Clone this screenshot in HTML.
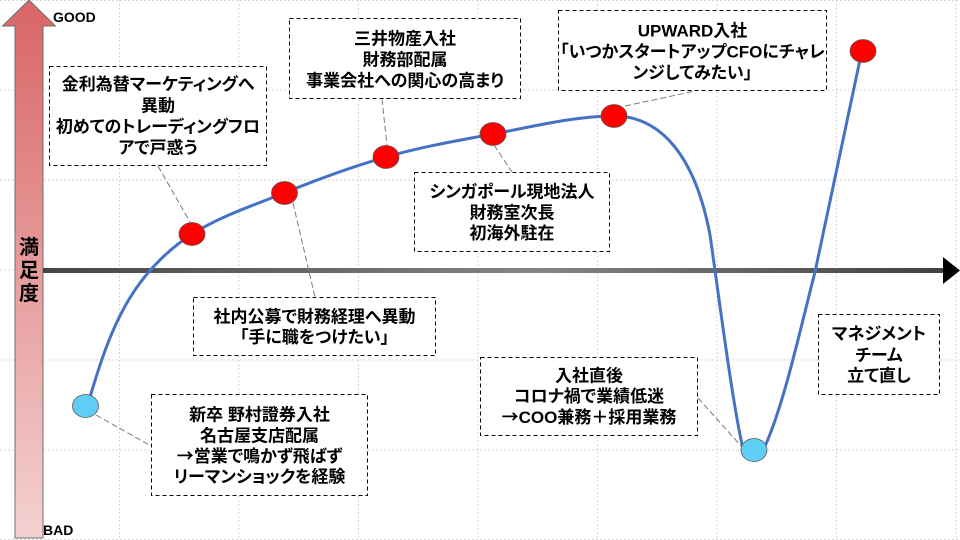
<!DOCTYPE html>
<html><head><meta charset="utf-8"><style>
html,body{margin:0;padding:0;background:#fff;}
svg{display:block;}
text{font-family:"Liberation Sans","Noto Sans CJK JP",sans-serif;font-weight:bold;fill:#000;font-feature-settings:"palt";}
.bx{font-size:17px;text-anchor:middle;}
.cj{font-family:"Noto Sans CJK JP",sans-serif;}
</style></head><body>
<svg width="960" height="540" viewBox="0 0 960 540" xmlns="http://www.w3.org/2000/svg">
<defs>
<linearGradient id="rg" x1="0" y1="0" x2="0" y2="1">
<stop offset="0" stop-color="#d96565"/><stop offset="1" stop-color="#f4d1d1"/>
</linearGradient>
<linearGradient id="ag" x1="0" y1="0" x2="1" y2="0">
<stop offset="0" stop-color="#454545"/><stop offset="0.55" stop-color="#858585"/><stop offset="1" stop-color="#404040"/>
</linearGradient>
</defs>
<!-- grid -->
<g stroke="#d6d6d6" stroke-width="1" stroke-dasharray="2,2" fill="none">
<line x1="0" y1="0.5" x2="960" y2="0.5"/>
<line x1="0" y1="90" x2="960" y2="90"/>
<line x1="0" y1="180" x2="960" y2="180"/>
<line x1="0" y1="270" x2="960" y2="270"/>
<line x1="0" y1="360" x2="960" y2="360"/>
<line x1="0" y1="450" x2="960" y2="450"/>
<line x1="0" y1="539.5" x2="960" y2="539.5"/>
<line x1="119.5" y1="0" x2="119.5" y2="540"/>
<line x1="239" y1="0" x2="239" y2="540"/>
<line x1="358.5" y1="0" x2="358.5" y2="540"/>
<line x1="478" y1="0" x2="478" y2="540"/>
<line x1="597.5" y1="0" x2="597.5" y2="540"/>
<line x1="717" y1="0" x2="717" y2="540"/>
<line x1="836.5" y1="0" x2="836.5" y2="540"/>
<line x1="956" y1="0" x2="956" y2="540"/>
</g>
<!-- red vertical arrow -->
<path d="M29 0 L55.5 26 L43 26 L43 538 L15 538 L15 26 L2.5 26 Z" fill="url(#rg)" stroke="#6e6e6e" stroke-width="1"/>
<text x="29" y="254" font-size="20" text-anchor="middle">満</text>
<text x="29" y="277" font-size="20" text-anchor="middle">足</text>
<text x="29" y="300" font-size="20" text-anchor="middle">度</text>
<text x="53" y="22" font-size="14">GOOD</text>
<text x="43" y="535" font-size="14">BAD</text>
<!-- horizontal axis -->
<rect x="43" y="268" width="901" height="5" fill="url(#ag)"/>
<path d="M943 257 L960 270.5 L943 284 Z" fill="#000"/>
<!-- curve -->
<path d="M90 397 C110 330 130 275 192 234 C221 216 252 206 284 193 C316 180 351 167 386 157 C421 147 455 141 493 134 C531 127 575 116 614 116 C660 116 695 155 710 235 C718 290 732 400 742 444 Q754 475 766 444 C785 400 800 330 815 272 L861 55" fill="none" stroke="#4472c4" stroke-width="3"/>
<!-- connectors -->
<g stroke="#7a7a7a" stroke-width="1" stroke-dasharray="6,3" fill="none">
<line x1="158" y1="166" x2="190" y2="222"/>
<line x1="293" y1="203" x2="315" y2="297"/>
<line x1="382" y1="99" x2="387" y2="146"/>
<line x1="494" y1="145" x2="512" y2="172"/>
<line x1="625" y1="106" x2="695" y2="91"/>
<line x1="96" y1="415" x2="151" y2="446"/>
<line x1="698" y1="398" x2="742" y2="447"/>
</g>
<!-- circles -->
<g stroke="#5a5a5a" stroke-width="0.8">
<ellipse cx="85.5" cy="406" rx="13" ry="11.5" fill="#5fcef6"/>
<ellipse cx="192" cy="234" rx="13" ry="11.5" fill="#ff0000"/>
<ellipse cx="284.5" cy="193" rx="13" ry="11.5" fill="#ff0000"/>
<ellipse cx="386" cy="157" rx="13" ry="11.5" fill="#ff0000"/>
<ellipse cx="493" cy="134" rx="13" ry="11.5" fill="#ff0000"/>
<ellipse cx="614" cy="116" rx="13" ry="11.5" fill="#ff0000"/>
<ellipse cx="863" cy="51" rx="13" ry="11.5" fill="#ff0000"/>
<ellipse cx="754" cy="450" rx="13" ry="11.5" fill="#5fcef6"/>
</g>
<!-- boxes -->
<g fill="#fff" stroke="#000" stroke-width="1" stroke-dasharray="4,3">
<rect x="49.5" y="66.5" width="217" height="99"/>
<rect x="289.5" y="18.5" width="231" height="80"/>
<rect x="558.5" y="10.5" width="268" height="80"/>
<rect x="414.5" y="172.5" width="195" height="79"/>
<rect x="193.5" y="297.5" width="242" height="58"/>
<rect x="151.5" y="394.5" width="216" height="101"/>
<rect x="480.5" y="357.5" width="217" height="78"/>
<rect x="818.5" y="314.5" width="121" height="80"/>
</g>
<!-- box texts -->
<text class="bx" x="158" y="90">金利為替マーケティングへ</text>
<text class="bx" x="158" y="111.5">異動</text>
<text class="bx" x="158" y="132.5">初めてのトレーディングフロ</text>
<text class="bx" x="158" y="153.5">アで戸惑う</text>

<text class="bx" x="405" y="44.5">三井物産入社</text>
<text class="bx" x="405" y="65.5">財務部配属</text>
<text class="bx" x="405" y="86.5">事業会社への関心の高まり</text>

<text class="bx" x="692.5" y="36.5">UPWARD入社</text>
<text class="bx" x="692.5" y="57.5">「いつかスタートアップCFOにチャレ</text>
<text class="bx" x="692.5" y="78.5">ンジしてみたい」</text>

<text class="bx" x="512" y="197.5">シンガポール現地法人</text>
<text class="bx" x="512" y="218.5">財務室次長</text>
<text class="bx" x="512" y="239">初海外駐在</text>

<text class="bx" x="314.5" y="322.5">社内公募で財務経理へ異動</text>
<text class="bx" x="314.5" y="343">「手に職をつけたい」</text>

<text class="bx" x="259.5" y="420.5">新卒 野村證券入社</text>
<text class="bx" x="259.5" y="441.5">名古屋支店配属</text>
<text class="bx" x="259.5" y="462"><tspan class="cj">→</tspan>営業で鳴かず飛ばず</text>
<text class="bx" x="259.5" y="482.5">リーマンショックを経験</text>

<text class="bx" x="589" y="381.5">入社直後</text>
<text class="bx" x="589" y="402">コロナ禍で業績低迷</text>
<text class="bx" x="589" y="423"><tspan class="cj">→</tspan>COO兼務＋採用業務</text>

<text class="bx" x="879" y="339.5">マネジメント</text>
<text class="bx" x="879" y="361">チーム</text>
<text class="bx" x="879" y="381.5">立て直し</text>
</svg>
</body></html>
